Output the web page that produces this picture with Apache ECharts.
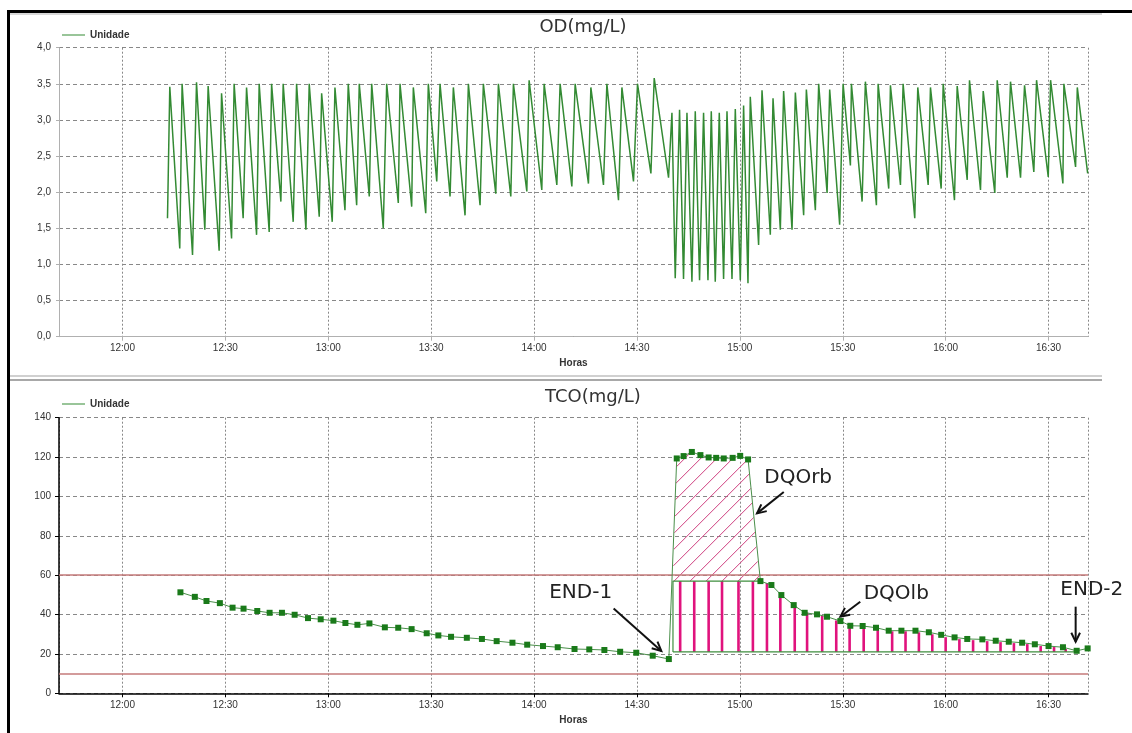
<!DOCTYPE html>
<html>
<head>
<meta charset="utf-8">
<script src="https://cdn.jsdelivr.net/npm/echarts@6/dist/echarts.min.js"></script>
<style>
  html, body { margin: 0; padding: 0; background: #fff; }
  #main { width: 1132px; height: 733px; }
</style>
</head>
<body>
<div id="main"></div>
<script>
// tempos em minutos depois das 12:00
var odMin = [13.13, 13.80, 16.71, 17.39, 20.43, 21.59, 24.02, 24.98, 28.19, 28.89, 31.81, 32.56, 35.19, 36.18, 39.10, 39.86, 42.78, 43.48, 46.19, 46.86, 49.78, 50.77, 53.49, 54.45, 57.37, 58.07, 61.16, 61.95, 64.87, 65.83, 68.28, 69.04, 71.96, 72.66,
  76.04, 77.04, 80.42, 80.92, 84.33, 84.80, 88.42, 89.17, 91.63, 92.59, 95.51, 96.47, 99.88, 100.85, 104.26, 105.22, 108.84, 109.60, 113.22, 113.98, 117.89, 118.56, 122.26, 122.94, 126.64, 127.60, 131.02, 131.98, 135.86, 136.56, 140.24, 141.23, 144.62, 145.61, 148.99, 150.16, 154.07, 155.03, 159.21,
  160.20, 161.16, 162.42, 163.58, 164.58, 166.03, 167.0, 168.25, 169.42, 170.70, 171.67, 172.83, 174.0, 175.26, 176.25, 177.71, 178.67, 180.13, 181.09, 182.37, 183.04,
  185.47, 186.46, 188.88, 189.67, 191.80, 192.76, 195.21, 196.18, 198.60, 199.39, 202.01, 202.98, 205.43, 206.19, 209.10, 210.10, 212.23, 212.52, 215.64, 216.60, 219.81, 220.31, 223.40, 223.90, 226.82, 227.60, 230.99, 231.87, 234.90, 235.57, 238.69, 239.28, 242.57, 243.36, 246.28, 246.95, 250.16, 250.95, 254.33, 255.03, 257.95, 258.91, 261.83, 263.0, 265.71, 266.50, 269.91, 270.59, 274.18, 274.47, 277.88, 278.38, 281.4];
var odVal = [1.64, 3.46, 1.22, 3.5, 1.13, 3.52, 1.48, 3.47, 1.19, 3.37, 1.36, 3.5, 1.64, 3.45, 1.41, 3.5, 1.45, 3.5, 1.87, 3.5, 1.59, 3.5, 1.48, 3.5, 1.66, 3.37, 1.59, 3.45, 1.75, 3.5, 1.82, 3.5, 1.94, 3.5,
  1.5, 3.5, 1.85, 3.5, 1.8, 3.45, 1.71, 3.5, 2.15, 3.5, 1.94, 3.45, 1.68, 3.5, 1.82, 3.5, 1.98, 3.5, 1.94, 3.5, 2.01, 3.55, 2.03, 3.5, 2.1, 3.5, 2.08, 3.5, 2.12, 3.45, 2.1, 3.5, 1.89, 3.45, 2.15, 3.5, 2.26, 3.58, 2.2,
  3.1, 0.81, 3.14, 0.8, 3.1, 0.76, 3.12, 0.78, 3.1, 0.78, 3.12, 0.76, 3.1, 0.8, 3.12, 0.8, 3.15, 0.78, 3.2, 0.74, 3.32,
  1.27, 3.41, 1.41, 3.3, 1.48, 3.4, 1.48, 3.38, 1.68, 3.42, 1.75, 3.5, 1.99, 3.42, 1.55, 3.5, 2.37, 3.5, 1.87, 3.53, 1.82, 3.5, 2.05, 3.48, 2.1, 3.5, 1.64, 3.45, 2.1, 3.45, 2.05, 3.5, 1.89, 3.47, 2.17, 3.55, 2.03, 3.4, 1.99, 3.55, 2.2, 3.53, 2.2, 3.48, 2.28, 3.55, 2.21, 3.55, 2.12, 3.5, 2.35, 3.45, 2.26];

var tcoMin = [16.9, 21.1, 24.5, 28.4, 32.1, 35.3, 39.3, 42.9, 46.5, 50.2, 54.1, 57.8, 61.5, 65, 68.5, 72, 76.5, 80.4, 84.3, 88.7, 92.1, 95.8, 100.4, 104.8, 109.1, 113.7, 118, 122.6, 126.9, 131.8, 136.1, 140.5, 145.1, 149.8, 154.6, 159.3,
  161.6, 163.6, 166, 168.5, 170.9, 173.1, 175.3, 177.9, 180.1, 182.4,
  186, 189.2, 192.1, 195.7, 198.9, 202.5, 205.4, 209.3, 212.2, 215.8, 219.7, 223.4, 227.1, 231.2, 235.1, 238.7, 242.6, 246.3, 250.7, 254.6, 258.4, 262.3, 266, 270, 274.2, 278.2, 281.4];
var tcoVal = [51.3, 49.0, 46.9, 45.8, 43.5, 43.0, 41.8, 40.9, 40.9, 39.9, 38.2, 37.6, 36.9, 35.7, 34.8, 35.5, 33.5, 33.3, 32.6, 30.5, 29.4, 28.7, 28.2, 27.6, 26.5, 25.7, 24.7, 24.0, 23.4, 22.5, 22.3, 22.0, 21.1, 20.6, 19.1, 17.4,
  119.3, 120.5, 122.6, 121, 119.8, 119.6, 119.3, 119.6, 120.6, 118.8,
  57.0, 55.0, 49.9, 44.8, 40.9, 40.1, 38.9, 36.7, 34.3, 34.2, 33.3, 31.8, 31.8, 31.8, 31.0, 29.7, 28.4, 27.6, 27.4, 26.7, 26.2, 25.7, 24.9, 24.0, 23.4, 21.6, 22.8];

// barras da DQO lentamente biodegradavel
var barMin = [162.6, 166.7, 170.9, 174.8, 179.6, 183.8, 187.9, 191.8, 196.0, 199.6, 204.0, 208.1, 212.0, 216.1, 220.2, 224.4, 228.3, 232.2, 236.1, 240.0, 244.0, 248.0, 252.1, 256.0, 259.9, 263.8, 267.7, 271.6, 275.0];
var barTop = [57, 57, 57, 57, 57, 57, 56, 51, 45, 41, 39.5, 37, 34.5, 34, 33, 31.5, 31.5, 31, 30, 28.5, 27.5, 27, 26.5, 26, 25.5, 25, 24, 23.5, 22.5];
var barBase = 21;
var hatchBase = 57, hatchStart = 160.5, hatchEnd = 185.8, baseEnd = 278;
var limits = [60, 10];

var base = new Date(2010, 0, 1, 12, 0, 0).getTime();
function toTime(m) { return base + m * 60000; }
function hhmm(v) {
  var d = new Date(v);
  var h = d.getHours(), m = d.getMinutes();
  return h + ':' + (m < 10 ? '0' : '') + m;
}

var FONT = 'Liberation Sans';
var GREEN = '#338a33';

var odData = odMin.map(function (m, i) { return [toTime(m), odVal[i]]; });
var tcoData = tcoMin.map(function (m, i) { return [toTime(m), tcoVal[i]]; });
var barData = barMin.map(function (m, i) { return [toTime(m), barTop[i]]; });

var hatchPoly = [[toTime(hatchStart), hatchBase]];
tcoMin.forEach(function (m, i) {
  if (m > hatchStart && m < hatchEnd && tcoVal[i] > hatchBase) hatchPoly.push([toTime(m), tcoVal[i]]);
});
hatchPoly.push([toTime(hatchEnd), hatchBase]);

// linhas diagonais (x + y = c) recortadas pelo poligono
function hatchLines(pts, step) {
  var cs = pts.map(function (p) { return p[0] + p[1]; });
  var cMin = Math.min.apply(null, cs), cMax = Math.max.apply(null, cs);
  var out = [];
  for (var c = cMin + step / 2; c < cMax; c += step) {
    var hits = [];
    for (var i = 0; i < pts.length; i++) {
      var P = pts[i], Q = pts[(i + 1) % pts.length];
      var fp = P[0] + P[1] - c, fq = Q[0] + Q[1] - c;
      if ((fp < 0) !== (fq < 0)) {
        var t = fp / (fp - fq);
        hits.push([P[0] + t * (Q[0] - P[0]), P[1] + t * (Q[1] - P[1])]);
      }
    }
    hits.sort(function (a, b) { return a[0] - b[0]; });
    for (var k = 0; k + 1 < hits.length; k += 2) {
      out.push({ type: 'line', shape: { x1: hits[k][0], y1: hits[k][1], x2: hits[k + 1][0], y2: hits[k + 1][1] },
        style: { stroke: '#cf3f7f', lineWidth: 1 } });
    }
  }
  return out;
}

function xAxis(grid, dark) {
  return {
    type: 'time', gridIndex: grid,
    min: toTime(-18.5), max: toTime(281.5),
    splitNumber: 9,
    name: 'Horas', nameLocation: 'middle', nameGap: 22,
    nameTextStyle: { fontSize: 10, fontWeight: 'bold', color: '#333', fontFamily: FONT },
    axisLine: { show: true, lineStyle: { color: dark ? '#000' : '#b0b0b0', width: dark ? 1.5 : 1 } },
    axisTick: { show: true, length: 4, lineStyle: { color: dark ? '#000' : '#b0b0b0' } },
    axisLabel: { formatter: hhmm, fontSize: 10, color: '#333', margin: 7, fontFamily: FONT, showMinLabel: false, showMaxLabel: false },
    splitLine: { show: true, lineStyle: { type: [2, 2], color: '#888', width: 1 } }
  };
}

var chart = echarts.init(document.getElementById('main'));
chart.setOption({
  animation: false,
  backgroundColor: '#fff',
  grid: [
    { left: 59, right: 44, top: 47.7, height: 289, outerBoundsMode: 'none' },
    { left: 59, right: 44, top: 417.7, height: 275.6, outerBoundsMode: 'none' }
  ],
  legend: [
    { data: ['Unidade'], left: 57, top: 25, icon: 'rect', itemWidth: 23, itemHeight: 1, itemGap: 5,
      textStyle: { fontSize: 10, fontWeight: 'bold', color: '#333', fontFamily: FONT } },
    { data: ['Unidade'], left: 57, top: 394, icon: 'rect', itemWidth: 23, itemHeight: 1, itemGap: 5,
      textStyle: { fontSize: 10, fontWeight: 'bold', color: '#333', fontFamily: FONT } }
  ],
  xAxis: [xAxis(0, false), xAxis(1, true)],
  yAxis: [
    { type: 'value', gridIndex: 0, min: 0, max: 4, interval: 0.5,
      axisLine: { show: true, lineStyle: { color: '#b0b0b0' } },
      axisTick: { show: true, length: 3, lineStyle: { color: '#b0b0b0' } },
      axisLabel: { fontSize: 10, color: '#333', margin: 8, fontFamily: FONT,
        formatter: function (v) { return v.toFixed(1).replace('.', ','); } },
      splitLine: { lineStyle: { type: [4, 3], color: '#888' } } },
    { type: 'value', gridIndex: 1, min: 0, max: 140, interval: 20,
      axisLine: { show: true, lineStyle: { color: '#000', width: 1.5 } },
      axisTick: { show: true, length: 4, lineStyle: { color: '#000' } },
      axisLabel: { fontSize: 10, color: '#333', margin: 8, fontFamily: FONT },
      splitLine: { lineStyle: { type: [4, 3], color: '#888' } } }
  ],
  series: [
    { name: 'Unidade', type: 'line', xAxisIndex: 0, yAxisIndex: 0, data: odData,
      showSymbol: false, lineStyle: { color: GREEN, width: 1.5 }, itemStyle: { color: GREEN } },
    { type: 'custom', xAxisIndex: 1, yAxisIndex: 1, data: [[toTime(170), 80]], z: 2,
      renderItem: function (params, api) {
        var pts = hatchPoly.map(function (p) { return api.coord(p); });
        return { type: 'group', children: hatchLines(pts, 16) };
      } },
    { type: 'custom', xAxisIndex: 1, yAxisIndex: 1, data: barData, z: 3,
      renderItem: function (params, api) {
        var top = api.coord([api.value(0), api.value(1)]);
        var bot = api.coord([api.value(0), barBase]);
        return { type: 'line', shape: { x1: top[0], y1: top[1], x2: bot[0], y2: bot[1] },
          style: { stroke: '#e0137d', lineWidth: 2.6 } };
      } },
    { type: 'line', xAxisIndex: 1, yAxisIndex: 1, z: 4, showSymbol: false, silent: true,
      data: [[toTime(hatchStart), barBase], [toTime(hatchStart), hatchBase], [toTime(hatchEnd), hatchBase], '-',
             [toTime(hatchStart), barBase], [toTime(baseEnd), barBase]],
      lineStyle: { color: '#3f8f3f', width: 1.2 },
      markLine: { silent: true, symbol: 'none', label: { show: false },
        lineStyle: { color: '#c47a7a', width: 1.5, type: 'solid' },
        data: limits.map(function (v) { return { yAxis: v }; }) } },
    { name: 'Unidade', type: 'line', xAxisIndex: 1, yAxisIndex: 1, data: tcoData, z: 5,
      symbol: 'rect', symbolSize: 6, showSymbol: true,
      lineStyle: { color: '#4a8f4a', width: 1 }, itemStyle: { color: '#1a7a1a' } }
  ]
});

// anotacoes (em coordenadas do grafico de baixo)
var notes = [
  { text: 'END-1', at: [133.6, 50.9], from: [143.2, 43.1], to: [157.1, 21.5] },
  { text: 'DQOrb', at: [197.0, 109.3], from: [192.8, 102.3], to: [185.0, 91.4] },
  { text: 'DQOlb', at: [225.6, 50.4], from: [215.1, 46.5], to: [209.3, 38.9] },
  { text: 'END-2', at: [282.6, 52.4], from: [277.9, 44], to: [277.9, 26.2] }
];
function px(p) { return chart.convertToPixel({ xAxisIndex: 1, yAxisIndex: 1 }, [toTime(p[0]), p[1]]); }

var graphics = [
  { type: 'rect', shape: { x: 7, y: 10, width: 3, height: 723 }, style: { fill: '#000' } },
  { type: 'rect', shape: { x: 7, y: 10, width: 1125, height: 3 }, style: { fill: '#000' } },
  { type: 'rect', shape: { x: 10, y: 13, width: 1092, height: 2 }, style: { fill: '#d8d8d8' } },
  { type: 'rect', shape: { x: 10, y: 375, width: 1092, height: 2 }, style: { fill: '#d0d0d0' } },
  { type: 'rect', shape: { x: 10, y: 379, width: 1092, height: 2 }, style: { fill: '#a8a8a8' } },
  { type: 'text', x: 583, y: 27, style: { text: 'OD(mg/L)', font: '18px "DejaVu Sans"', fill: '#333', textAlign: 'center', textVerticalAlign: 'middle' } },
  { type: 'text', x: 593, y: 397, style: { text: 'TCO(mg/L)', font: '18px "DejaVu Sans"', fill: '#333', textAlign: 'center', textVerticalAlign: 'middle' } }
];
notes.forEach(function (n) {
  var c = px(n.at), a = px(n.from), b = px(n.to);
  graphics.push({ type: 'text', x: c[0], y: c[1], z: 10,
    style: { text: n.text, font: '20px "DejaVu Sans"', fill: '#222', textAlign: 'center', textVerticalAlign: 'middle' } });
  var ang = Math.atan2(b[1] - a[1], b[0] - a[0]), L = 10;
  var h1 = [b[0] - L * Math.cos(ang - 0.45), b[1] - L * Math.sin(ang - 0.45)];
  var h2 = [b[0] - L * Math.cos(ang + 0.45), b[1] - L * Math.sin(ang + 0.45)];
  graphics.push({ type: 'polyline', z: 10, shape: { points: [a, b] }, style: { stroke: '#111', lineWidth: 2 } });
  graphics.push({ type: 'polyline', z: 10, shape: { points: [h1, b, h2] }, style: { stroke: '#111', lineWidth: 2, fill: null } });
});
chart.setOption({ graphic: graphics });
</script>
</body>
</html>
